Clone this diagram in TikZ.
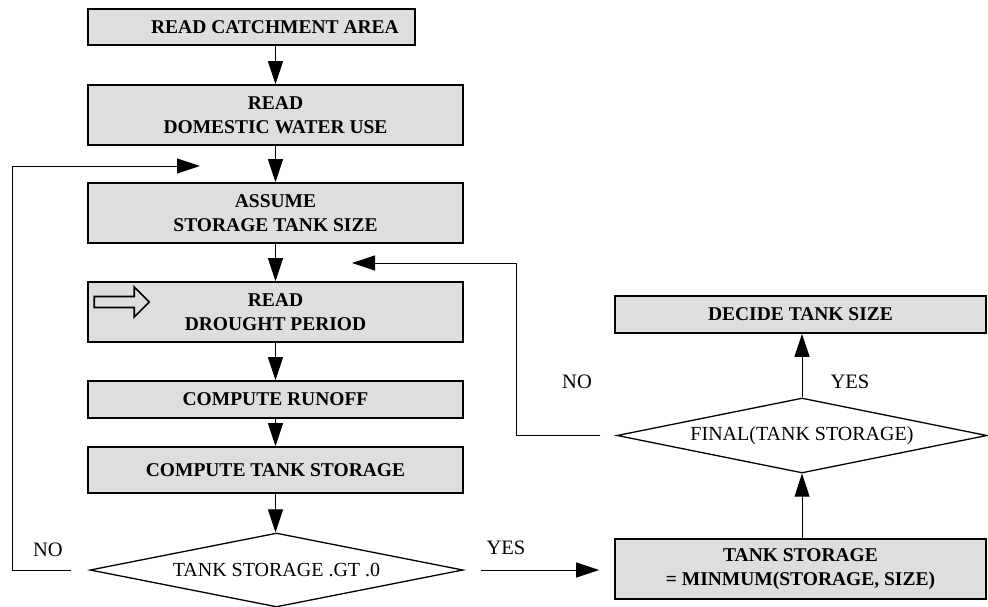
\documentclass[tikz,border=0pt]{standalone}
\usepackage{fontspec}
\setmainfont{Liberation Serif}
\usetikzlibrary{shapes.geometric,arrows.meta,calc}
\definecolor{boxgray}{gray}{0.87}
\begin{document}
\begin{tikzpicture}[x=1pt,y=-1pt,
  box/.style={draw, line width=1.6pt, fill=boxgray, rectangle, inner sep=2pt, align=center,
    font=\fontsize{19.5}{24}\selectfont\bfseries, minimum width=375pt},
  dec/.style={draw, line width=1.3pt, diamond, aspect=5, inner sep=1pt,
    font=\fontsize{20}{24}\selectfont},
  conn/.style={line width=1pt, -{Triangle[length=23pt,width=15pt]}},
  lbl/.style={font=\fontsize{20.5}{24}\selectfont, inner sep=0pt}]
\useasboundingbox (0,0) rectangle (988,606);

% left column
\node[box, minimum width=327pt, minimum height=36pt] (b1) at (251.5,27) {\hspace*{47pt}READ CATCHMENT AREA};
\node[box, minimum height=60pt] (b2) at (275.5,115) {READ\\DOMESTIC WATER USE};
\node[box, minimum height=60pt] (b3) at (275.5,213) {ASSUME\\STORAGE TANK SIZE};
\node[box, minimum height=60pt] (b4) at (275.5,312) {READ\\DROUGHT PERIOD};
\node[box, minimum height=37pt] (b5) at (275.5,399.5) {COMPUTE RUNOFF};
\node[box, minimum height=46pt] (b6) at (275.5,470) {COMPUTE TANK STORAGE};
\node[dec, minimum width=373pt, minimum height=74pt] (d1) at (276.5,570) {TANK STORAGE .GT .0};

% right column
\node[box, minimum width=371pt, minimum height=37pt] (dts) at (800.5,314.5) {DECIDE TANK SIZE};
\node[dec, minimum width=370pt, minimum height=75pt] (d2) at (802,435.5) {FINAL(TANK STORAGE)};
\node[box, minimum width=371pt, minimum height=60pt] (mb) at (800.5,569) {TANK STORAGE\\= MINMUM(STORAGE, SIZE)};

% hollow arrow inside b4
\draw[line width=1.6pt, line join=miter, shift={(b4.west)}]
  (7,-15.5) -- (47,-15.5) -- (47,-25) -- (62,-10) -- (47,5) -- (47,-4.5) -- (7,-4.5) -- cycle;

% main flow
\draw[conn] (b1.south -| b2.north) -- (b2.north);
\draw[conn] (b2) -- (b3);
\draw[conn] (b3) -- (b4);
\draw[conn] (b4) -- (b5);
\draw[conn] (b5) -- (b6);
\draw[conn] (b6.south) -- (b6.south |- d1.north);

% YES branch
\draw[conn] ($(d1.east)+(17,0)$) -- ($(d1.east -| mb.west)+(-15,0)$);
\draw[conn] (d2.south |- mb.north) -- (d2.south);
\draw[conn] (d2.north) -- (d2.north |- dts.south);

% NO loops
\coordinate (lc) at (12,166);
\coordinate (lt) at (200,166);
\draw[conn] ($(d1.west)+(-18,0)$) -| (lc) -- (lt);
\coordinate (rc) at (516,263);
\coordinate (rt) at (352,263);
\draw[conn] ($(d2.west)+(-16,0)$) -| (rc) -- (rt);

% labels
\node[lbl] (no1) at (48,550) {NO};
\node[lbl] (yes1) at (506,548) {YES};
\node[lbl] (no2) at (577,382) {NO};
\node[lbl] (yes2) at (850,382) {YES};
\end{tikzpicture}
\end{document}
